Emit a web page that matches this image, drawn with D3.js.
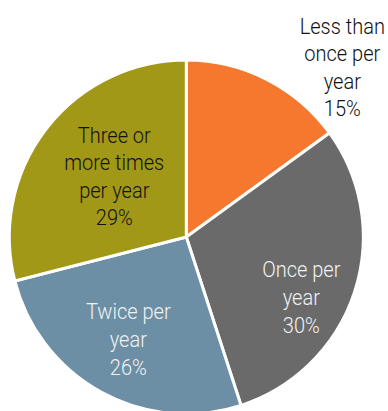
<!DOCTYPE html>
<html>
<head>
<meta charset="utf-8">
<script src="https://cdn.jsdelivr.net/npm/d3@7"></script>
<style>
  html, body { margin: 0; padding: 0; background: #fff; }
  svg { display: block; }
  text { font-family: Roboto, "Liberation Sans", Arial, sans-serif; font-weight: 350; }
</style>
</head>
<body>
<svg id="chart" width="388" height="411"></svg>
<script>
// Share of respondents by frequency, clockwise from 12 o'clock
const categories = ["Less than once per year", "Once per year", "Twice per year", "Three or more times per year"];
const shares = [15, 30, 26, 29];
const labelLines = [
  ["Less than", "once per", "year"],
  ["Once per", "year"],
  ["Twice per", "year"],
  ["Three or", "more times", "per year"]
];

// slice fills and label inks
const colors = ["#F5782E", "#6A6A6A", "#6C8FA6", "#A19818"];
const textColors = ["#111111", "#f2f2f2", "#f2f2f2", "#111111"];
// label block centres, as offsets from the pie centre
const labelOffsets = [[156, -170], [115, 60], [-58, 102], [-72, -61]];

const cx = 186.3, cy = 237, radius = 177;
const fontSize = 22, lineHeight = 27.6, squeeze = 0.91;

const svg = d3.select("#chart");
const g = svg.append("g").attr("transform", `translate(${cx},${cy})`);

const data = categories.map((c, i) => ({ name: c, value: shares[i], i }));
const pie = d3.pie().value(d => d.value).sort(null);
const arc = d3.arc().innerRadius(0).outerRadius(radius);
const arcs = pie(data);

g.selectAll("path.slice")
  .data(arcs)
  .join("path")
  .attr("class", "slice")
  .attr("d", arc)
  .attr("fill", d => colors[d.data.i])
  .attr("stroke", "#fff")
  .attr("stroke-width", 3)
  .attr("stroke-linejoin", "miter");

arcs.forEach(a => {
  const i = a.data.i;
  const [ox, oy] = labelOffsets[i];
  const lines = labelLines[i].concat([a.data.value + "%"]);
  const t = g.append("text")
    .attr("transform", `translate(${ox},${oy}) scale(${squeeze},1)`)
    .attr("text-anchor", "middle")
    .attr("font-size", fontSize)
    .attr("fill", textColors[i]);
  const y0 = -(lines.length - 1) * lineHeight / 2;
  lines.forEach((ln, k) => {
    t.append("tspan")
      .attr("x", 0)
      .attr("y", y0 + k * lineHeight)
      .attr("dy", "0.36em")
      .text(ln);
  });
});
</script>
</body>
</html>
